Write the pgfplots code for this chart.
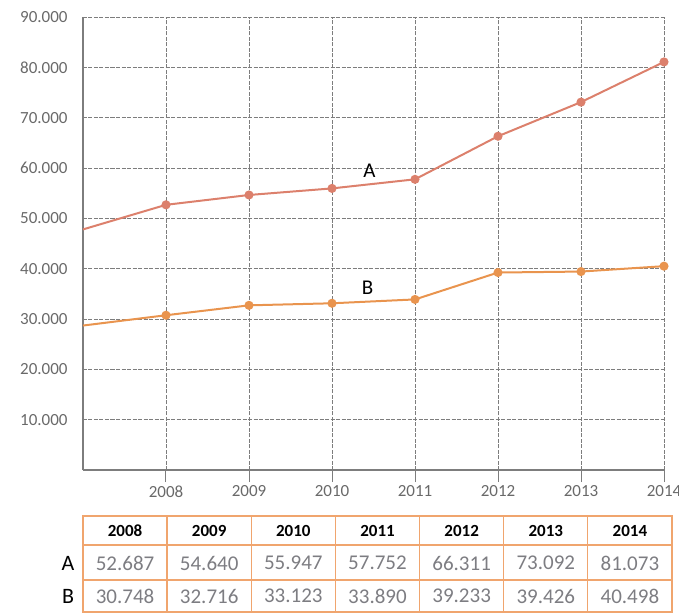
\documentclass[border=0pt]{standalone}
\usepackage{pgfplots}
\pgfplotsset{compat=1.18}
\usepackage{fontspec}
\setmainfont{Carlito}

\definecolor{lineA}{RGB}{220,128,108}
\definecolor{lineB}{RGB}{233,148,78}
\definecolor{gridgray}{RGB}{125,125,125}
\definecolor{ticktext}{RGB}{105,105,105}
\definecolor{tableor}{RGB}{240,165,110}
\definecolor{valgray}{RGB}{125,125,130}

\begin{document}
\begin{tikzpicture}[x=1pt,y=1pt]
\begin{axis}[
    at={(0,0)}, anchor=south west,
    scale only axis,
    width=581pt, height=453pt,
    xmin=2007, xmax=2014,
    ymin=0, ymax=90000,
    axis x line*=bottom,
    axis y line*=left,
    axis line style={gridgray, line width=1.2pt},
    xtick={2008,2009,2010,2011,2012,2013,2014},
    xticklabels={2008,2009,2010,2011,2012,2013,2014},
    ytick={10000,20000,30000,40000,50000,60000,70000,80000,90000},
    scaled y ticks=false,
    yticklabel style={/pgf/number format/.cd, fixed, 1000 sep={.}, assume math mode=true},
    tick label style={font=\fontsize{17}{19}\selectfont, text=ticktext},
    tick align=outside,
    major tick length=12pt,
    xtick style={gridgray, line width=1pt},
    ytick style={draw=none},
    grid=major,
    grid style={gridgray, dashed, line width=0.9pt, dash pattern=on 4pt off 1.5pt},
    clip=false,
]
\addplot[color=lineA, line width=2pt, mark=*, mark size=3.5pt,
    mark options={fill=lineA, draw=lineA}, mark indices={2,3,4,5,6,7,8}]
    coordinates {(2007,47800) (2008,52687) (2009,54640) (2010,55947)
                 (2011,57752) (2012,66311) (2013,73092) (2014,81073)};
\addplot[color=lineB, line width=2pt, mark=*, mark size=3.5pt,
    mark options={fill=lineB, draw=lineB}, mark indices={2,3,4,5,6,7,8}]
    coordinates {(2007,28700) (2008,30748) (2009,32716) (2010,33123)
                 (2011,33890) (2012,39233) (2013,39426) (2014,40498)};
\node[font=\fontsize{21}{23}\selectfont] at (axis cs:2010.45,59400) {A};
\node[font=\fontsize{21}{23}\selectfont] at (axis cs:2010.43,36300) {B};
\end{axis}

% data table under the chart
\def\cw{84.14}
\draw[tableor, line width=1.3pt] (0,-46) rectangle (589,-142);
\foreach \yy in {-75,-110} \draw[tableor, line width=1.3pt] (0,\yy) -- (589,\yy);
\foreach \i in {1,...,6} \draw[tableor, line width=1.3pt] (\i*\cw,-46) -- (\i*\cw,-142);
\foreach \yr [count=\i from 0] in {2008,2009,2010,2011,2012,2013,2014}
    \node[font=\fontsize{17}{19}\selectfont\bfseries] at ({(\i+0.5)*\cw},-61) {\yr};
\foreach \v [count=\i from 0] in {52.687,54.640,55.947,57.752,66.311,73.092,81.073}
    \node[font=\fontsize{21}{23}\selectfont, text=valgray] at ({(\i+0.5)*\cw},-93) {\v};
\foreach \v [count=\i from 0] in {30.748,32.716,33.123,33.890,39.233,39.426,40.498}
    \node[font=\fontsize{21}{23}\selectfont, text=valgray] at ({(\i+0.5)*\cw},-126) {\v};
\node[font=\fontsize{22}{24}\selectfont] at (-15,-93) {A};
\node[font=\fontsize{22}{24}\selectfont] at (-15,-126) {B};

\pgfresetboundingbox
\useasboundingbox (-83,-144) rectangle (596,470);
\end{tikzpicture}
\end{document}
